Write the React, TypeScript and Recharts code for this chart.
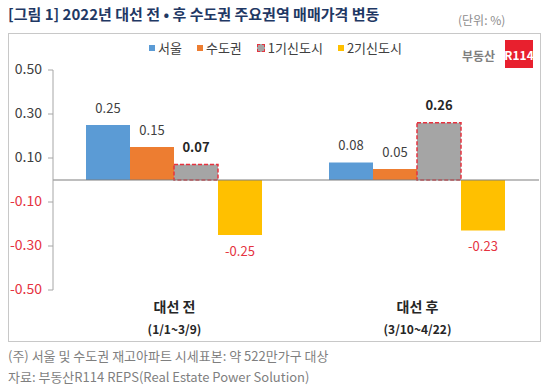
import * as React from "react";
import {
  BarChart,
  Bar,
  XAxis,
  YAxis,
  ReferenceLine,
  LabelList,
} from "recharts";

const categories = ["대선 전", "대선 후"];
const periods = ["(1/1~3/9)", "(3/10~4/22)"];
const seoul = [0.25, 0.08];
const sudo = [0.15, 0.05];
const firstNew = [0.07, 0.26];
const secondNew = [-0.25, -0.23];
const yTicks = [0.5, 0.3, 0.1, -0.1, -0.3, -0.5];

const SERIES = [
  { key: "seoul", name: "서울", color: "#5B9BD5" },
  { key: "sudo", name: "수도권", color: "#ED7D31" },
  { key: "first", name: "1기신도시", color: "#A5A5A5" },
  { key: "second", name: "2기신도시", color: "#FFC000" },
];

const FONT = "'Noto Sans CJK KR', 'Noto Sans', sans-serif";
const RED = "#E5333F";

const data = categories.map((c, i) => ({
  cat: c,
  period: periods[i],
  seoul: seoul[i],
  sudo: sudo[i],
  first: firstNew[i],
  second: secondNew[i],
}));

function ValueLabel(props: any) {
  const { x, y, width, height, value, bold } = props;
  const neg = value < 0;
  const top = Math.min(y, y + height);
  const bottom = Math.max(y, y + height);
  return (
    <text
      x={x + width / 2}
      y={neg ? bottom + 17 : top - 16}
      textAnchor="middle"
      dominantBaseline="middle"
      fontSize={13}
      fontFamily={FONT}
      fontWeight={bold ? 700 : 400}
      fill={neg ? RED : bold ? "#262626" : "#404040"}
    >
      {value.toFixed(2)}
    </text>
  );
}

function CatTick(props: any) {
  const { x, payload } = props;
  const i = categories.indexOf(payload.value);
  return (
    <g>
      <text x={x} y={308} textAnchor="middle" dominantBaseline="middle" fontSize={14} fontWeight={700} fontFamily={FONT} fill="#262626">
        {payload.value}
      </text>
      <text x={x} y={331} textAnchor="middle" dominantBaseline="middle" fontSize={12} fontWeight={700} fontFamily={FONT} fill="#262626">
        {periods[i]}
      </text>
    </g>
  );
}

function YTick(props: any) {
  const { x, y, payload } = props;
  return (
    <text x={x - 4} y={y} textAnchor="end" dominantBaseline="middle" fontSize={14} fontFamily={FONT} fill={payload.value < 0 ? RED : "#404040"}>
      {payload.value.toFixed(2)}
    </text>
  );
}

function LegendBox() {
  return (
    <div style={{ position: "absolute", left: 149, top: 38, display: "flex", gap: 15, fontFamily: FONT, fontSize: 13, color: "#404040", alignItems: "center", whiteSpace: "nowrap" }}>
      {SERIES.map((s) => (
        <div key={s.key} style={{ display: "flex", alignItems: "center", gap: 3 }}>
          <span
            style={{
              display: "inline-block",
              width: 6,
              height: 6,
              background: s.color,
              border: s.key === "first" ? `1px dashed ${RED}` : "none",
            }}
          />
          <span>{s.name}</span>
        </div>
      ))}
    </div>
  );
}

export default function App() {
  return (
    <div style={{ position: "fixed", left: 0, top: 0, width: 550, height: 392, background: "#fff", fontFamily: FONT }}>
      <div style={{ position: "absolute", left: 8, top: 3, fontSize: 15, fontWeight: 700, color: "#1F3864", whiteSpace: "nowrap" }}>
        [그림 1] 2022년 대선 전 • 후 수도권 주요권역 매매가격 변동
      </div>
      <div style={{ position: "absolute", left: 458, top: 11, fontSize: 12, color: "#8C8C8C", whiteSpace: "nowrap" }}>
        (단위: %)
      </div>
      <div style={{ position: "absolute", left: 8, top: 33, width: 531, height: 307, border: "1px solid #C8C8C8" }} />
      <div style={{ position: "absolute", left: 462, top: 47, fontSize: 12, fontWeight: 700, color: "#7F7F7F", whiteSpace: "nowrap" }}>
        부동산
      </div>
      <div
        style={{
          position: "absolute",
          left: 505,
          top: 40,
          width: 28,
          height: 28,
          background: "#E8202E",
          color: "#fff",
          fontSize: 12,
          fontWeight: 700,
          display: "flex",
          alignItems: "center",
          justifyContent: "center",
        }}
      >
        R114
      </div>
      <div style={{ position: "absolute", left: 0, top: 0 }}>
        <BarChart
          width={550}
          height={392}
          data={data}
          margin={{ top: 70, right: 11, bottom: 42, left: 8 }}
          barCategoryGap={33}
          barGap={0}
        >
          <XAxis dataKey="cat" axisLine={false} tickLine={false} tick={<CatTick />} height={60} />
          <YAxis
            domain={[-0.5, 0.5]}
            ticks={yTicks}
            width={45}
            axisLine={{ stroke: "#A6A6A6" }}
            tickLine={{ stroke: "#A6A6A6" }}
            tickSize={5}
            tick={<YTick />}
            interval={0}
          />
          <Bar dataKey="seoul" name="서울" fill="#5B9BD5" isAnimationActive={false}>
            <LabelList dataKey="seoul" content={<ValueLabel />} />
          </Bar>
          <Bar dataKey="sudo" name="수도권" fill="#ED7D31" isAnimationActive={false}>
            <LabelList dataKey="sudo" content={<ValueLabel />} />
          </Bar>
          <Bar
            dataKey="first"
            name="1기신도시"
            fill="#A5A5A5"
            stroke={RED}
            strokeWidth={1.5}
            strokeDasharray="4 2"
            isAnimationActive={false}
          >
            <LabelList dataKey="first" content={<ValueLabel bold />} />
          </Bar>
          <Bar dataKey="second" name="2기신도시" fill="#FFC000" isAnimationActive={false}>
            <LabelList dataKey="second" content={<ValueLabel />} />
          </Bar>
          <ReferenceLine y={0} stroke="#7F7F7F" strokeWidth={1.2} />
        </BarChart>
      </div>
      <LegendBox />
      <div style={{ position: "absolute", left: 8, top: 346, fontSize: 13, color: "#7F7F7F", whiteSpace: "nowrap" }}>
        (주) 서울 및 수도권 재고아파트 시세표본: 약 522만가구 대상
      </div>
      <div style={{ position: "absolute", left: 8, top: 367, fontSize: 13, color: "#7F7F7F", whiteSpace: "nowrap" }}>
        자료: 부동산R114 REPS(Real Estate Power Solution)
      </div>
    </div>
  );
}
